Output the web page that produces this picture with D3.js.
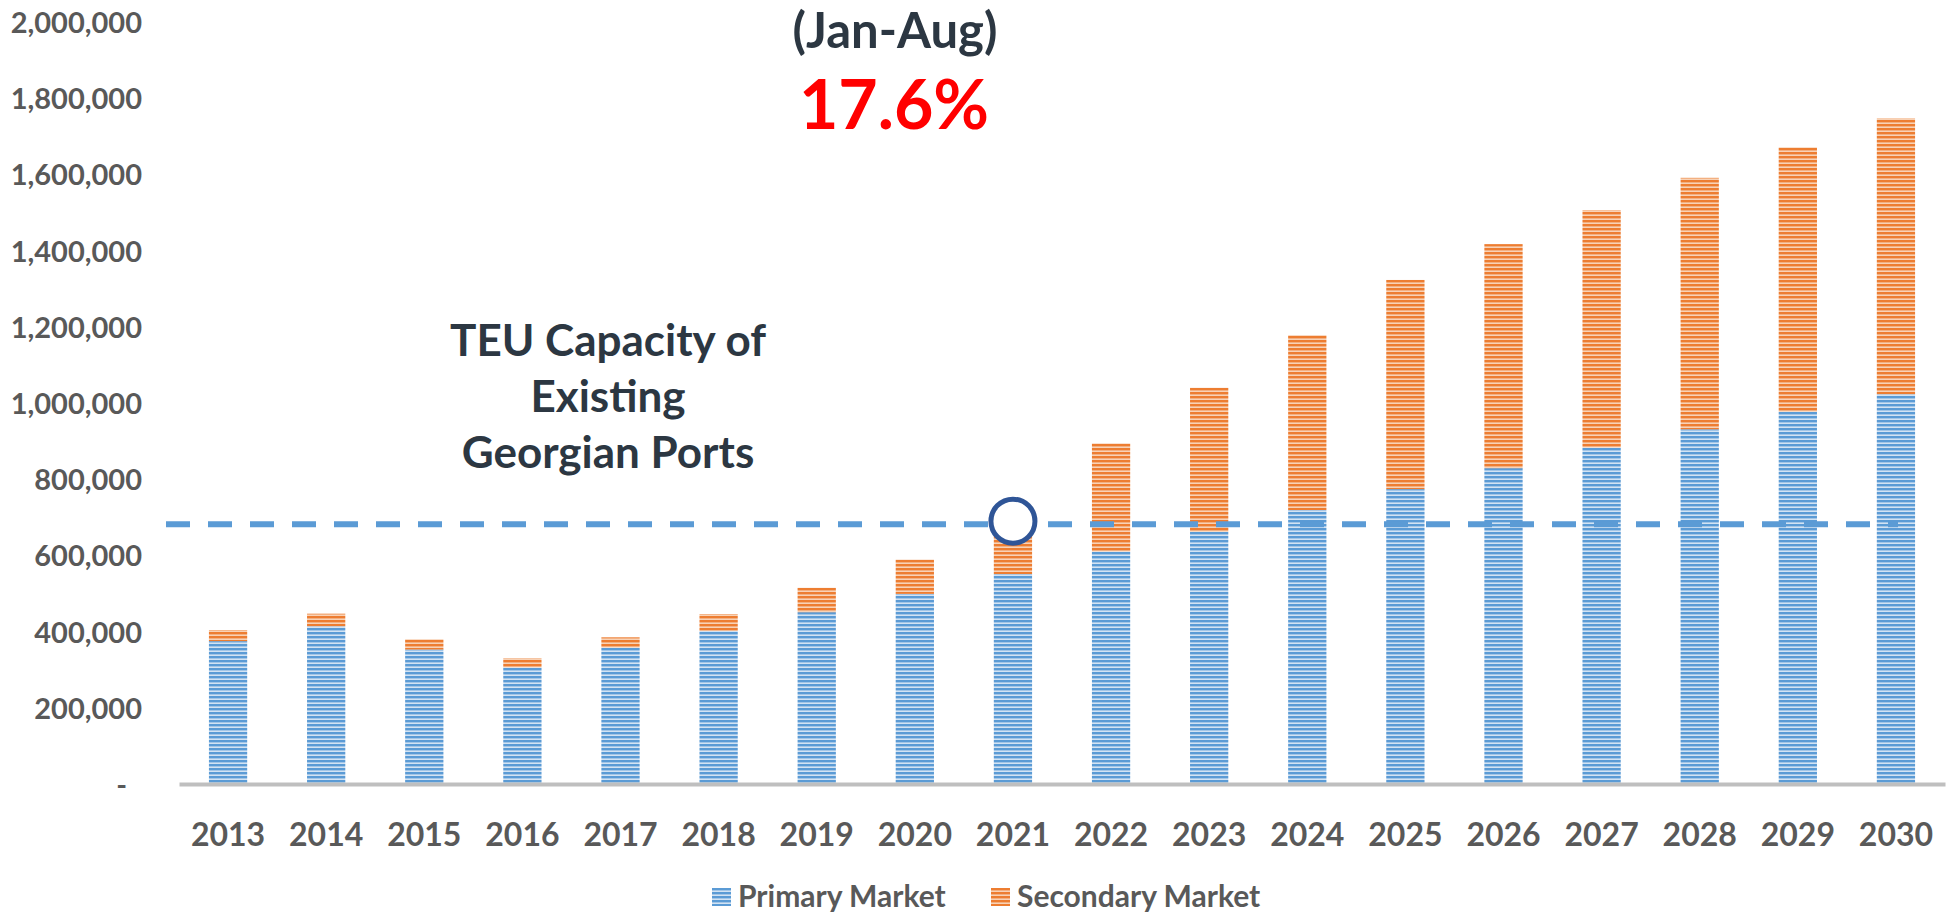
<!DOCTYPE html>
<html>
<head>
<meta charset="utf-8">
<script src="https://cdn.jsdelivr.net/npm/d3@7"></script>
<style>
  body { margin: 0; background: #fff; }
  text { font-family: Lato, "Open Sans", sans-serif; font-weight: bold; }
</style>
</head>
<body>
<div id="chart"></div>
<script>
var years = ["2013", "2014", "2015", "2016", "2017", "2018", "2019", "2020", "2021",
  "2022", "2023", "2024", "2025", "2026", "2027", "2028", "2029", "2030"];
var primaryMarket = [375000, 414000, 353000, 306000, 358000, 402000, 451000, 499000, 551000,
  610000, 662000, 719000, 774000, 829000, 883000, 931000, 977000, 1023000];
var secondaryMarket = [29000, 33000, 27000, 24000, 27000, 44000, 64000, 90000, 110000,
  284000, 378000, 459000, 549000, 588000, 623000, 660000, 694000, 724000];
var yTicks = [0, 200000, 400000, 600000, 800000, 1000000, 1200000, 1400000, 1600000, 1800000, 2000000];
var capacity = 682000;
var seriesNames = ["Primary Market", "Secondary Market"];
var noteLines = ["TEU Capacity of", "Existing", "Georgian Ports"];

var _Width = 1953,
    _Height = 913,
    colors = ["#5B9BD5", "#ED7D31"],
    lightColors = ["#D3E3F3", "#F8D2B6"];

var svg = d3.select("#chart")
  .append("svg")
  .attr("width", _Width)
  .attr("height", _Height);

// striped fills, one per series
var defs = svg.append("defs");
colors.forEach(function(c, i) {
  var p = defs.append("pattern")
    .attr("id", "stripe" + i)
    .attr("patternUnits", "userSpaceOnUse")
    .attr("width", 4)
    .attr("height", 4);
  p.append("rect").attr("width", 4).attr("height", 4).attr("fill", lightColors[i]);
  p.append("rect").attr("width", 4).attr("height", 2.4).attr("fill", c);
});

var x = d3.scaleBand()
  .domain(years)
  .range([179, 1945])
  .paddingInner(0.61)
  .paddingOuter(0.305);

var y = d3.scaleLinear()
  .domain([0, 2000000])
  .range([784, 22]);

// stacked data
var rows = years.map(function(yr, i) {
  return { year: yr, primary: primaryMarket[i], secondary: secondaryMarket[i] };
});
var stack = d3.stack().keys(["primary", "secondary"])(rows);

svg.append("g")
  .selectAll("g")
  .data(stack)
  .enter()
  .append("g")
  .attr("fill", function(d, i) { return "url(#stripe" + i + ")"; })
  .selectAll("rect")
  .data(function(d) { return d; })
  .enter()
  .append("rect")
  .attr("x", function(d) { return x(d.data.year); })
  .attr("y", function(d) { return y(d[1]); })
  .attr("width", x.bandwidth())
  .attr("height", function(d) { return y(d[0]) - y(d[1]); });

// y axis labels
var yAxis = svg.append("g")
  .attr("transform", "translate(142,0)")
  .call(d3.axisLeft(y).tickValues(yTicks).tickSize(0).tickPadding(0)
    .tickFormat(function(d) { return d === 0 ? "-" : d3.format(",")(d); }));
yAxis.select(".domain").remove();
yAxis.selectAll("text")
  .attr("fill", "#595959")
  .style("font-size", "29px")
  .attr("dx", function(d) { return d === 0 ? "-15" : "0"; })
  .attr("dy", "0.36em");

// x axis
var xAxis = svg.append("g")
  .attr("transform", "translate(0," + y(0) + ")")
  .call(d3.axisBottom(x).tickSize(0).tickPadding(39));
xAxis.select(".domain")
  .attr("stroke", "#BFBFBF")
  .attr("stroke-width", 4);
xAxis.selectAll("text")
  .attr("fill", "#595959")
  .style("font-size", "32px");

// capacity line
svg.append("line")
  .attr("x1", 166)
  .attr("x2", 1898)
  .attr("y1", y(capacity))
  .attr("y2", y(capacity))
  .attr("stroke", "#5B9BD5")
  .attr("stroke-width", 6)
  .attr("stroke-dasharray", "24,18");

svg.append("circle")
  .attr("cx", x("2021") + x.bandwidth() / 2)
  .attr("cy", y(capacity) - 3)
  .attr("r", 22)
  .attr("fill", "#fff")
  .attr("stroke", "#2F5597")
  .attr("stroke-width", 5);

// annotations
svg.append("g")
  .selectAll("text")
  .data(noteLines)
  .enter()
  .append("text")
  .attr("x", 608)
  .attr("y", function(d, i) { return 356 + i * 56; })
  .attr("text-anchor", "middle")
  .attr("fill", "#2C3742")
  .style("font-size", "44px")
  .text(function(d) { return d; });

svg.append("text")
  .attr("x", 895)
  .attr("y", 48)
  .attr("text-anchor", "middle")
  .attr("fill", "#2C3742")
  .style("font-size", "49px")
  .text("(Jan-Aug)");

svg.append("text")
  .attr("x", 894)
  .attr("y", 129)
  .attr("text-anchor", "middle")
  .attr("fill", "#FF0000")
  .style("font-size", "68px")
  .text("17.6%");

// legend
var legend = svg.append("g")
  .selectAll("g")
  .data(seriesNames)
  .enter()
  .append("g")
  .attr("transform", function(d, i) { return "translate(" + [712, 991][i] + ",888)"; });
legend.append("rect")
  .attr("width", 19)
  .attr("height", 18)
  .attr("fill", function(d, i) { return "url(#stripe" + i + ")"; });
legend.append("text")
  .attr("x", 26)
  .attr("y", 19)
  .attr("fill", "#595959")
  .style("font-size", "30px")
  .text(function(d) { return d; });
</script>
</body>
</html>
